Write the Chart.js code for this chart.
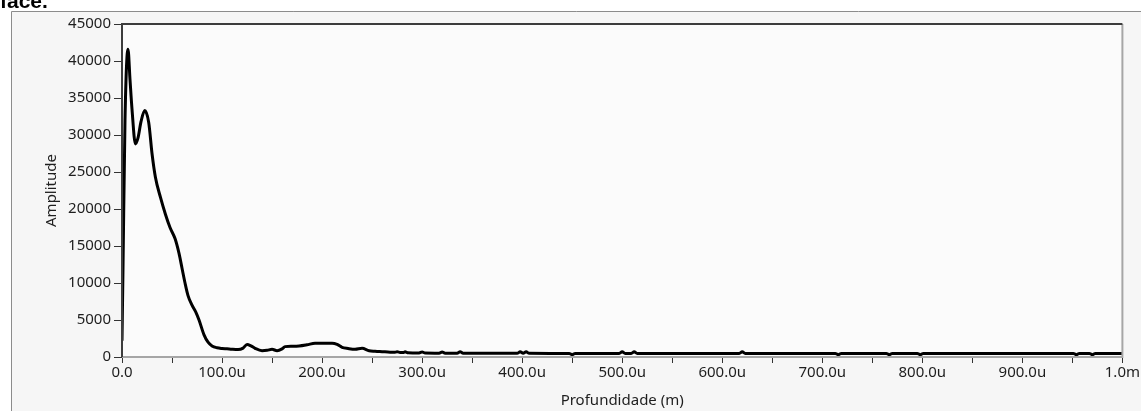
<!DOCTYPE html>
<html>
<head>
<meta charset="utf-8">
<script src="https://cdn.jsdelivr.net/npm/chart.js@4/dist/chart.umd.min.js"></script>
<style>
  html, body { margin: 0; padding: 0; background: #ffffff; }
  #wrap { width: 1141px; height: 411px; position: relative; }
</style>
</head>
<body>
<div id="wrap"><canvas id="c" width="1141" height="411"></canvas></div>
<script>
// Depth in micrometres (u) and amplitude values
const depthU = [0, 1, 3, 6, 8, 10, 13.4, 16, 19, 22.7, 26.7, 30, 33.4, 38.4, 43.4, 48, 53, 57, 60, 63, 66, 70, 74, 77, 82, 86, 90, 95, 100,
  105, 110, 116, 121, 125, 129, 133, 140, 145, 150, 155, 160, 163, 170, 177, 185, 193, 200, 210, 215, 220, 226, 233, 240, 247, 253, 260,
  268, 272, 275, 278, 281, 283, 286, 297, 300, 303, 317, 320, 323, 335, 338, 341, 360, 380, 395, 398, 401, 404, 407, 447, 450, 453,
  497, 500, 503, 509, 512, 515, 617, 620, 623, 713, 716, 719, 764, 767, 770, 795, 798, 801, 951, 954, 957, 967, 970, 973, 1000];
const amplitude = [2200, 12000, 32000, 41600, 37500, 33500, 28800, 29600, 31800, 33300, 31700, 27500, 24300, 21600, 19300, 17500, 16000, 14000, 12000, 10000, 8300, 7000, 6000, 5000, 3000, 2000, 1500, 1250, 1150,
  1100, 1040, 1000, 1200, 1700, 1500, 1170, 850, 900, 1040, 850, 1100, 1400, 1450, 1490, 1650, 1850, 1850, 1850, 1700, 1310, 1150, 1040, 1170, 850, 780, 720,
  650, 630, 700, 620, 600, 700, 580, 550, 680, 540, 520, 660, 520, 510, 700, 510, 500, 490, 490, 700, 500, 700, 490, 480, 300, 480,
  480, 700, 480, 480, 700, 480, 480, 700, 480, 480, 300, 480, 480, 300, 480, 480, 300, 480, 480, 300, 480, 480, 300, 480, 480];
const yTicks = [0, 5000, 10000, 15000, 20000, 25000, 30000, 35000, 40000, 45000];
const xMajorLabels = { 0: '0.0', 100: '100.0u', 200: '200.0u', 300: '300.0u', 400: '400.0u', 500: '500.0u', 600: '600.0u', 700: '700.0u', 800: '800.0u', 900: '900.0u', 1000: '1.0m' };

const points = depthU.map((d, i) => ({ x: d, y: amplitude[i] }));

const decor = {
  id: 'decor',
  beforeDraw(chart) {
    const ctx = chart.ctx, a = chart.chartArea;
    ctx.save();
    ctx.fillStyle = '#f6f6f6';
    ctx.fillRect(11, 11, chart.width - 11, chart.height - 11);
    ctx.strokeStyle = '#8c8c8c';
    ctx.lineWidth = 1;
    ctx.beginPath();
    ctx.moveTo(11.5, chart.height);
    ctx.lineTo(11.5, 11.5);
    ctx.lineTo(chart.width, 11.5);
    ctx.stroke();
    ctx.fillStyle = '#fbfbfb';
    ctx.fillRect(a.left, a.top, a.right - a.left, a.bottom - a.top);
    ctx.fillStyle = '#000';
    ctx.font = 'bold 21px "Liberation Sans", Arial, sans-serif';
    ctx.textBaseline = 'alphabetic';
    ctx.fillText('face.', 0, 8);
    ctx.restore();
  },
  afterDatasetsDraw(chart) {
    const ctx = chart.ctx, a = chart.chartArea;
    ctx.save();
    ctx.lineWidth = 2;
    ctx.strokeStyle = '#a6a6a6';
    ctx.beginPath();
    ctx.moveTo(a.left, a.bottom);
    ctx.lineTo(a.right, a.bottom);
    ctx.lineTo(a.right, a.top);
    ctx.stroke();
    ctx.strokeStyle = '#3c3c3c';
    ctx.beginPath();
    ctx.moveTo(a.left, a.bottom);
    ctx.lineTo(a.left, a.top);
    ctx.lineTo(a.right, a.top);
    ctx.stroke();
    ctx.restore();
  }
};

const tickFont = { family: '"Noto Sans", "Open Sans", sans-serif', size: 15 };

new Chart(document.getElementById('c'), {
  type: 'line',
  data: {
    datasets: [{
      data: points,
      borderColor: '#000000',
      borderWidth: 3,
      pointRadius: 0,
      fill: false,
      cubicInterpolationMode: 'monotone'
    }]
  },
  options: {
    responsive: false,
    animation: false,
    events: [],
    layout: { padding: { left: 0, right: 17, top: 24, bottom: 0 } },
    plugins: { legend: { display: false }, tooltip: { enabled: false } },
    scales: {
      x: {
        type: 'linear',
        min: 0, max: 1000,
        afterFit(s) { s.height = 54; },
        border: { display: false },
        grid: { drawOnChartArea: false, drawTicks: true, tickLength: 6, color: '#333', lineWidth: 1 },
        ticks: {
          stepSize: 50,
          autoSkip: false,
          maxRotation: 0,
          padding: 1,
          color: '#1e1e1e',
          font: tickFont,
          callback: (v) => (xMajorLabels[v] !== undefined ? xMajorLabels[v] : '')
        },
        title: {
          display: true,
          text: 'Profundidade (m)',
          color: '#1e1e1e',
          font: tickFont,
          padding: { top: 0, bottom: 1 }
        }
      },
      y: {
        min: 0, max: 45000,
        afterFit(s) { s.width = 122; },
        afterBuildTicks(s) { s.ticks = yTicks.map(v => ({ value: v })); },
        border: { display: false },
        grid: { drawOnChartArea: false, drawTicks: true, tickLength: 8, color: '#333', lineWidth: 1 },
        ticks: {
          padding: 3,
          color: '#1e1e1e',
          font: tickFont,
          callback: (v) => String(v)
        },
        title: {
          display: true,
          text: 'Amplitude',
          color: '#1e1e1e',
          font: tickFont,
          padding: { top: 43, bottom: 0 }
        }
      }
    }
  },
  plugins: [decor]
});
</script>
</body>
</html>
